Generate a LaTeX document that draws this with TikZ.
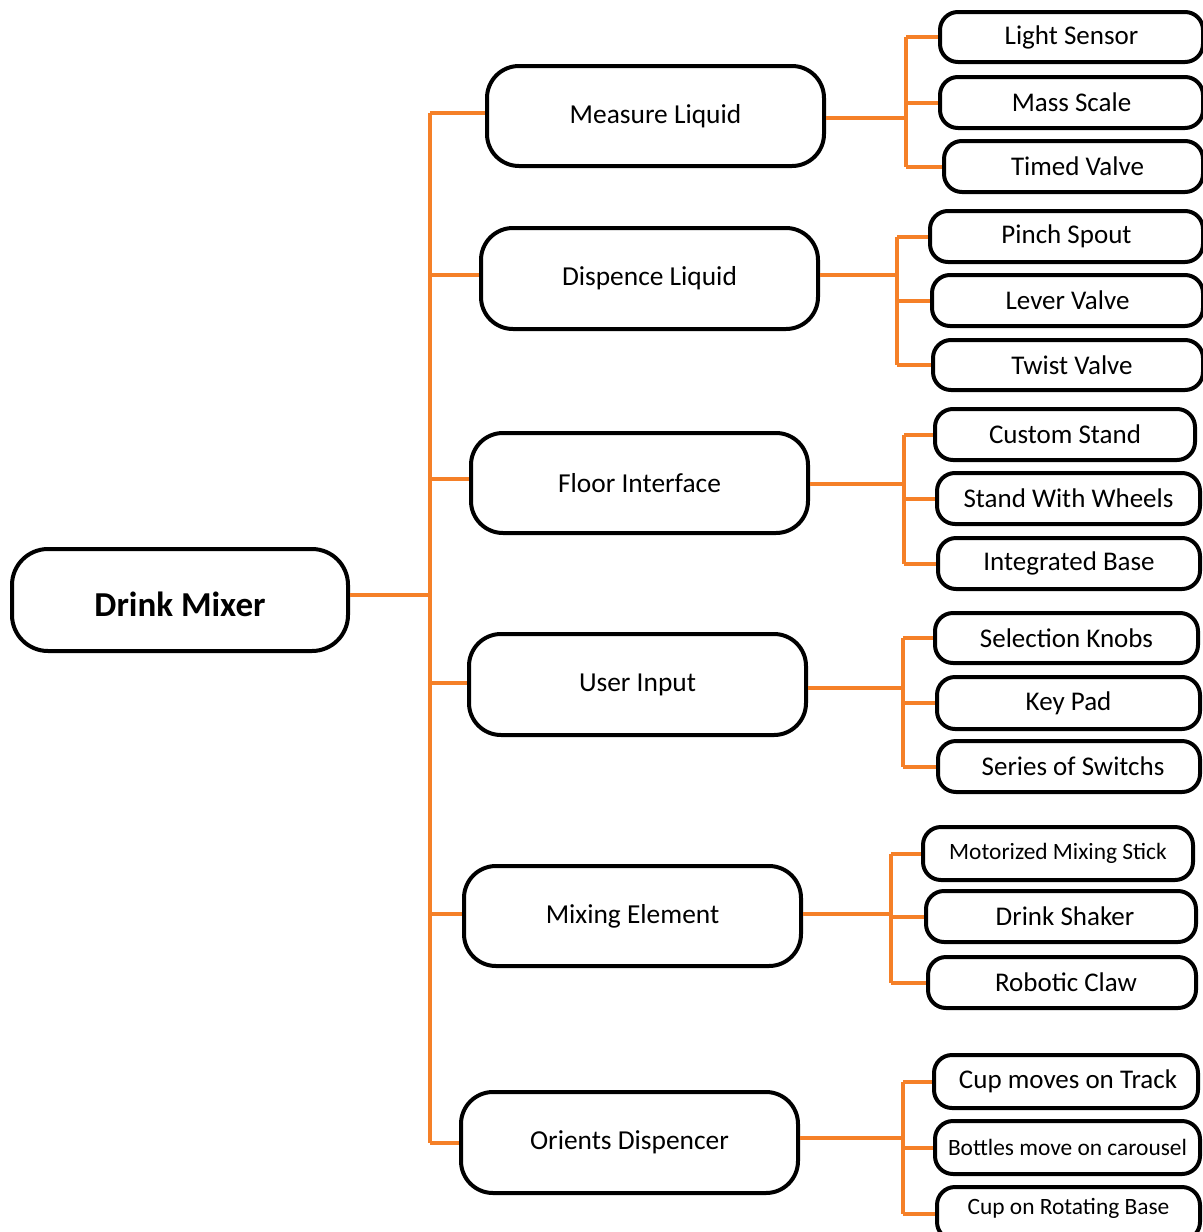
\documentclass[tikz,border=0pt]{standalone}
\usepackage{fontspec}
\setmainfont{Carlito}
\usetikzlibrary{fit}
\definecolor{conncol}{RGB}{245,128,40}
\tikzset{
  box/.style={draw=black, line width=2pt, inner sep=0pt, align=center, fill=white},
  rootbox/.style={box, rounded corners=18pt},
  midbox/.style={box, rounded corners=16pt},
  leafbox/.style={box, rounded corners=9pt},
  roottxt/.style={font=\fontsize{17.5}{20}\selectfont\bfseries},
  midtxt/.style={font=\fontsize{13.7}{16}\selectfont},
  leaftxt/.style={font=\fontsize{13.5}{16}\selectfont},
  smalltxt/.style={font=\fontsize{11.7}{14}\selectfont},
  conn/.style={draw=conncol, line width=2pt}
}
\begin{document}
\begin{tikzpicture}[x=0.5pt,y=-0.5pt]
\useasboundingbox (0,0) rectangle (1203,1232);
% trunk
\coordinate (t0) at (430,113);
\coordinate (t6) at (430,1143);
\draw[conn] (t0) -- (t6);
% root
\node[rootbox, fit={(12,549) (348,651)}] (root) {};
\node[roottxt] (roottext) at ([yshift=-2pt]root.center) {Drink Mixer};
\draw[conn] (root.east |- 0,595) -- (t0 |- 0,595);
% level 1 nodes
\node[midbox, fit={(487,66) (824,166)}] (m1) {};
\node[midbox, fit={(481,228) (818,329)}] (m2) {};
\node[midbox, fit={(471,433) (808,533)}] (m3) {};
\node[midbox, fit={(469,634) (806,735)}] (m4) {};
\node[midbox, fit={(464,866) (801,966)}] (m5) {};
\node[midbox, fit={(461,1092) (798,1193)}] (m6) {};
\begin{scope}[every node/.style={midtxt}]
\node at (m1.center) {Measure Liquid};
\node at (m2.center) {Dispence Liquid};
\node at (m3.center) {Floor Interface};
\node at (m4.center) {User Input};
\node at (m5.center) {Mixing Element};
\node at (m6.center) {Orients Dispencer};
\end{scope}
\foreach \m/\y in {m1/113,m2/275,m3/479,m4/683,m5/914,m6/1143}{
  \draw[conn] (t0 |- 0,\y) -- (\m.west |- 0,\y);
}
% sub-branch x positions
\coordinate (s1) at (906,118);
\coordinate (s2) at (897,275);
\coordinate (s3) at (904,484);
\coordinate (s4) at (903,688);
\coordinate (s5) at (891,914);
\coordinate (s6) at (903,1138);
% leaves
\node[leafbox, fit={(940,12) (1203,62)}] (l11) {};
\node[leafbox, fit={(940,77) (1203,128)}] (l12) {};
\node[leafbox, fit={(944,141) (1203,192)}] (l13) {};
\node[leafbox, fit={(930,211) (1203,262)}] (l21) {};
\node[leafbox, fit={(932,275) (1203,326)}] (l22) {};
\node[leafbox, fit={(933,340) (1203,390)}] (l23) {};
\node[leafbox, fit={(935,409) (1195,460)}] (l31) {};
\node[leafbox, fit={(937,473) (1200,524)}] (l32) {};
\node[leafbox, fit={(938,538) (1200,589)}] (l33) {};
\node[leafbox, fit={(935,613) (1198,663)}] (l41) {};
\node[leafbox, fit={(937,677) (1200,729)}] (l42) {};
\node[leafbox, fit={(938,741) (1200,792)}] (l43) {};
\node[leafbox, fit={(923,827) (1193,880)}] (l51) {};
\node[leafbox, fit={(926,891) (1196,942)}] (l52) {};
\node[leafbox, fit={(928,957) (1196,1008)}] (l53) {};
\node[leafbox, fit={(934,1055) (1198,1108)}] (l61) {};
\node[leafbox, fit={(935,1121) (1200,1174)}] (l62) {};
\node[leafbox, fit={(937,1187) (1200,1240)}] (l63) {};
\begin{scope}[every node/.style={leaftxt}]
\node at ([xshift=0pt]l11.center) {Light Sensor};
\node at ([xshift=0pt]l12.center) {Mass Scale};
\node at ([xshift=2pt]l13.center) {Timed Valve};
\node at ([xshift=0pt]l21.center) {Pinch Spout};
\node at ([xshift=0pt]l22.center) {Lever Valve};
\node at ([xshift=2pt]l23.center) {Twist Valve};
\node at ([xshift=0pt]l31.center) {Custom Stand};
\node at ([xshift=0pt]l32.center) {Stand With Wheels};
\node at ([xshift=0pt]l33.center) {Integrated Base};
\node at ([xshift=0pt]l41.center) {Selection Knobs};
\node at ([xshift=0pt]l42.center) {Key Pad};
\node at ([xshift=2pt]l43.center) {Series of Switchs};
\node at ([xshift=2pt]l52.center) {Drink Shaker};
\node at ([xshift=2pt]l53.center) {Robotic Claw};
\node at ([xshift=1pt]l61.center) {Cup moves on Track};
\end{scope}
\begin{scope}[every node/.style={smalltxt}]
\node at (l51.center) {Motorized Mixing Stick};
\node at (l62.center) {Bottles move on carousel};
\node at ([yshift=2.5pt]l63.center) {Cup on Rotating Base};
\end{scope}
% sub connectors
\foreach \s/\m/\a/\b/\c in {s1/m1/l11/l12/l13, s2/m2/l21/l22/l23, s3/m3/l31/l32/l33, s4/m4/l41/l42/l43, s5/m5/l51/l52/l53, s6/m6/l61/l62/l63}{
  \draw[conn] (\m.east |- \s) -- (\s);
  \draw[conn] (\s |- \a.west) -- (\s |- \c.west);
  \draw[conn] (\s |- \a.west) -- (\a.west);
  \draw[conn] (\s |- \b.west) -- (\b.west);
  \draw[conn] (\s |- \c.west) -- (\c.west);
}
\end{tikzpicture}
\end{document}
